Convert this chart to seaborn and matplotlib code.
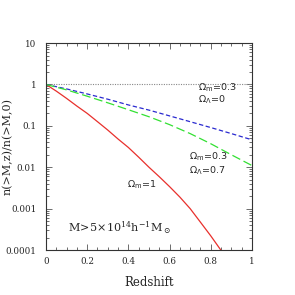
import numpy as np
import pandas as pd
import matplotlib
matplotlib.use("Agg")
import matplotlib.pyplot as plt
import seaborn as sns
from matplotlib.ticker import FixedLocator, NullFormatter

# values
z_red = [0.0, 0.05, 0.1, 0.15, 0.2, 0.25, 0.3, 0.35, 0.4, 0.45, 0.5, 0.55, 0.6, 0.65, 0.7, 0.75, 0.8, 0.85]
n_red = [1.0, 0.69, 0.46, 0.30, 0.20, 0.126, 0.079, 0.048, 0.030, 0.0175, 0.0100, 0.0059, 0.0034, 0.0019, 0.00100, 0.00047, 0.00022, 0.000098]

z_lcdm = [0.0, 0.1, 0.2, 0.3, 0.4, 0.5, 0.6, 0.7, 0.8, 0.9, 1.0]
n_open = [1.0, 0.78, 0.59, 0.44, 0.32, 0.24, 0.174, 0.126, 0.091, 0.065, 0.046]
n_lcdm = [1.0, 0.74, 0.52, 0.36, 0.245, 0.166, 0.107, 0.065, 0.037, 0.020, 0.011]

xticks = [0, 0.2, 0.4, 0.6, 0.8, 1]
xlabels = ["0", "0.2", "0.4", "0.6", "0.8", "1"]
yticks = [1e-4, 1e-3, 1e-2, 1e-1, 1, 10]
ylabels = ["0.0001", "0.001", "0.01", "0.1", "1", "10"]

sns.set_style("ticks")
plt.rcParams["font.family"] = ["DejaVu Serif"]
plt.rcParams["mathtext.fontset"] = "custom"
plt.rcParams["mathtext.rm"] = "DejaVu Serif"
plt.rcParams["mathtext.it"] = "DejaVu Serif"
plt.rcParams["mathtext.sf"] = "DejaVu Sans"

fig = plt.figure(figsize=(2.95, 2.95), dpi=100)
ax = fig.add_axes([0.156, 0.1525, 0.698, 0.7015])

df_red = pd.DataFrame({"z": z_red, "n": n_red})
df_other = pd.DataFrame({"z": z_lcdm, "open": n_open, "lcdm": n_lcdm})

ax.axhline(1, color="#888888", lw=0.8, ls=(0, (1, 1.2)))
sns.lineplot(data=df_red, x="z", y="n", ax=ax, color="#e8302c", lw=0.9)
sns.lineplot(data=df_other, x="z", y="open", ax=ax, color="#2a2ad0", lw=0.9, dashes=False,
             ls=(0, (3.5, 2)))
sns.lineplot(data=df_other, x="z", y="lcdm", ax=ax, color="#33e033", lw=0.9, dashes=False,
             ls=(0, (7, 3)))

ax.set_yscale("log")
ax.set_xlim(0, 1)
ax.set_ylim(1e-4, 10)

ax.xaxis.set_major_locator(FixedLocator(xticks))
ax.set_xticklabels(xlabels)
ax.xaxis.set_minor_locator(FixedLocator(np.arange(0, 1.001, 0.05)))
ax.yaxis.set_major_locator(FixedLocator(yticks))
ax.set_yticklabels(ylabels)
minors = [m * 10.0 ** e for e in range(-4, 1) for m in range(2, 10)]
ax.yaxis.set_minor_locator(FixedLocator(minors))
ax.yaxis.set_minor_formatter(NullFormatter())

ax.tick_params(which="both", direction="in", top=True, right=True, labelsize=6.3,
               color="#555555", width=0.6)
ax.tick_params(axis="y", pad=7)
ax.tick_params(axis="x", pad=5)
ax.tick_params(which="major", length=4)
ax.tick_params(which="minor", length=2)
for s in ax.spines.values():
    s.set_linewidth(0.8)
    s.set_color("#333333")

ax.set_xlabel("Redshift", fontsize=8.5)
ax.xaxis.set_label_coords(0.5, -0.125)
ax.set_ylabel("n(>M,z)/n(>M,0)", fontsize=8)
ax.yaxis.set_label_coords(-0.163, 0.5)

ax.text(0.74, 0.785, r"$\mathsf{\Omega_m\!=\!0.3}$", transform=ax.transAxes, fontsize=6.8, va="center")
ax.text(0.74, 0.725, r"$\mathsf{\Omega_\Lambda\!=\!0}$", transform=ax.transAxes, fontsize=6.8, va="center")
ax.text(0.695, 0.45, r"$\mathsf{\Omega_m\!=\!0.3}$", transform=ax.transAxes, fontsize=6.8, va="center")
ax.text(0.695, 0.384, r"$\mathsf{\Omega_\Lambda\!=\!0.7}$", transform=ax.transAxes, fontsize=6.8, va="center")
ax.text(0.395, 0.315, r"$\mathsf{\Omega_m\!=\!1}$", transform=ax.transAxes, fontsize=6.8, va="center")
ax.text(0.105, 0.105, r"$\mathrm{M\!>\!5\!\times\!10^{14}h^{-1}M_\odot}$", transform=ax.transAxes,
        fontsize=8, va="center")

fig.savefig("out.png", dpi=100)
